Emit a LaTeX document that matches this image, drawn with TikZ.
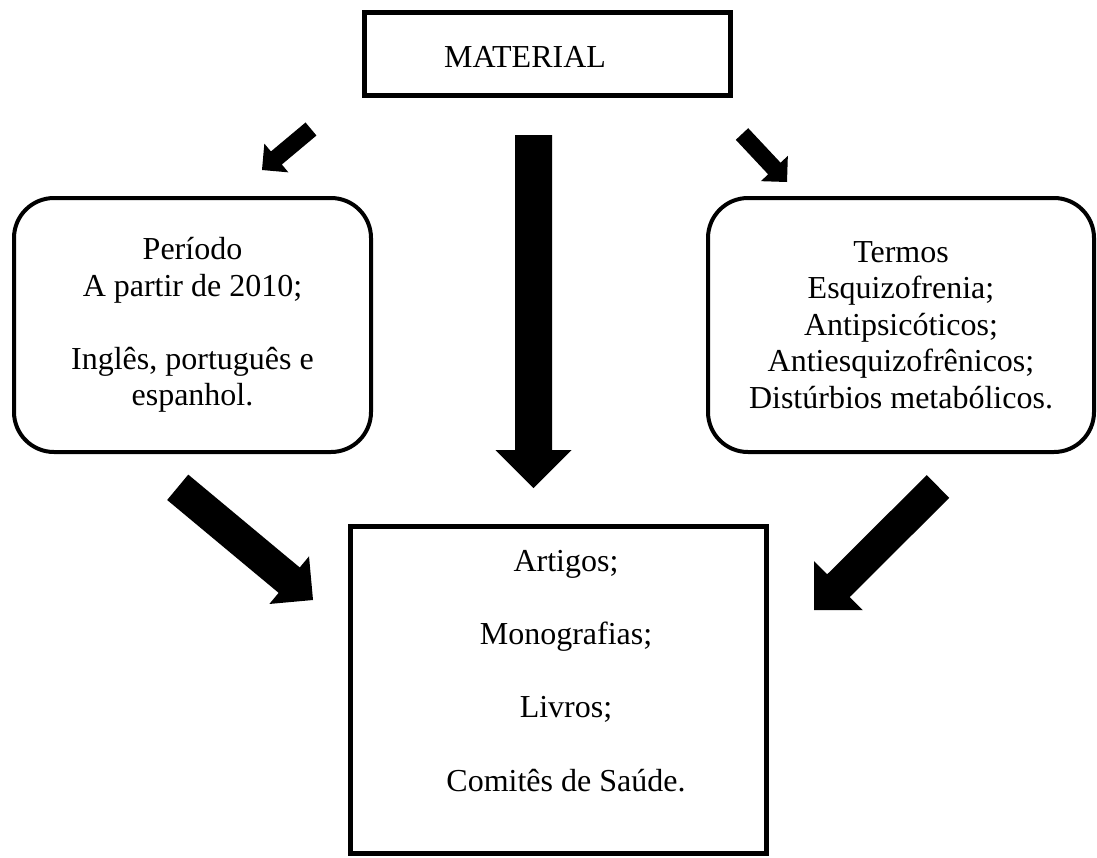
\documentclass[tikz,border=0pt]{standalone}
\usepackage{fontspec}
\setmainfont{Liberation Serif}
\usetikzlibrary{calc}
\newcommand{\blockarrow}[4]{%
  \path ($(#2)!#4!(#1)$) coordinate (ba);
  \fill[black] ($(#1)!#3!90:(#2)$) -- ($(ba)!#3!90:(#2)$) -- ($(ba)!#4!90:(#2)$) -- (#2)
    -- ($(ba)!#4!-90:(#2)$) -- ($(ba)!#3!-90:(#2)$) -- ($(#1)!#3!-90:(#2)$) -- cycle;}
\begin{document}
\begin{tikzpicture}[x=1pt,y=-1pt,
  font=\fontsize{32}{36.6}\selectfont,
  sqbox/.style={draw=black,line width=5pt,rectangle,inner sep=0pt},
  rbox/.style={draw=black,line width=4pt,rectangle,rounded corners=40pt,inner sep=0pt,align=center},
  txt/.style={inner sep=0pt,align=center}]
\useasboundingbox (0,0) rectangle (1097,857);
% boxes
\node[sqbox,minimum width=366pt,minimum height=83pt] (mat) at (547,53.5) {};
\node[txt,anchor=base] (mattxt) at (525,67) {MATERIAL};
\node[rbox,minimum width=357pt,minimum height=254pt] (periodo) at (192.5,325)
  {Período\\A partir de 2010;\\[36.6pt]Inglês, português e\\espanhol.};
\node[rbox,minimum width=386pt,minimum height=254pt] (termos) at (901,325)
  {Termos\\Esquizofrenia;\\Antipsicóticos;\\Antiesquizofrênicos;\\Distúrbios metabólicos.};
\node[sqbox,minimum width=416pt,minimum height=327pt] (res) at (558,689.5) {};
\node[txt] (restxt) at (566,671)
  {Artigos;\\[36.6pt]Monografias;\\[36.6pt]Livros;\\[36.6pt]Comitês de Saúde.};
% arrow end points
\coordinate (a1t) at (311,129); \coordinate (a1p) at (262,170);
\coordinate (a2t) at (742,134); \coordinate (a2p) at (787,182);
\coordinate (a3t) at (533.5,135); \coordinate (a3p) at (533.5,488);
\coordinate (a4t) at (177.7,487.3); \coordinate (a4p) at (313,600);
\coordinate (a5t) at (938,486.5); \coordinate (a5p) at (814,610);
\blockarrow{a1t}{a1p}{8.5pt}{18.75pt}
\blockarrow{a2t}{a2p}{8.5pt}{18.5pt}
\blockarrow{a3t}{a3p}{18.5pt}{38pt}
\blockarrow{a4t}{a4p}{16.5pt}{31pt}
\blockarrow{a5t}{a5p}{16pt}{34.5pt}
\end{tikzpicture}
\end{document}
